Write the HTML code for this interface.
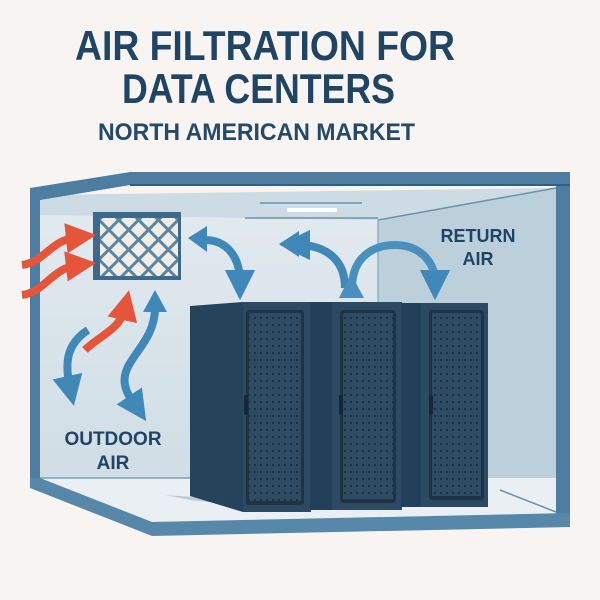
<!DOCTYPE html>
<html><head><meta charset="utf-8"><style>
html,body{margin:0;padding:0;background:#f7f4f1;}
svg{display:block}
text{font-family:"Liberation Sans",sans-serif;font-weight:bold;}
</style></head><body>
<svg width="600" height="600" viewBox="0 0 600 600" xmlns="http://www.w3.org/2000/svg">
<defs>
<pattern id="dots" width="6" height="7" patternUnits="userSpaceOnUse">
<rect width="6" height="7" fill="#2f4b64"/>
<rect x="2" y="2" width="2" height="2" fill="#1b3045"/>
</pattern>
<pattern id="lat" width="14" height="14" patternUnits="userSpaceOnUse" patternTransform="rotate(45)">
<rect width="14" height="14" fill="#f1ede4"/>
<rect width="3" height="14" fill="#5a86a6"/>
<rect width="14" height="3" fill="#5a86a6"/>
</pattern>
<linearGradient id="wall" x1="0" y1="0" x2="0" y2="1">
<stop offset="0" stop-color="#e3ebf0"/><stop offset="1" stop-color="#cddbe4"/>
</linearGradient>
<marker id="ab" viewBox="0 0 10 10" refX="4" refY="5" markerWidth="3.8" markerHeight="3.8" orient="auto"><path d="M0,0 L10,5 L0,10z" fill="#3f88b8"/></marker>
<marker id="ar" viewBox="0 0 10 10" refX="4" refY="5" markerWidth="3.8" markerHeight="3.8" orient="auto"><path d="M0,0 L10,5 L0,10z" fill="#e5553a"/></marker>
</defs>
<rect width="600" height="600" fill="#f7f4f1"/>
<text x="75" y="60" font-size="42" fill="#1f4464" textLength="380" lengthAdjust="spacingAndGlyphs">AIR FILTRATION FOR</text>
<text x="122" y="103" font-size="42" fill="#1f4464" textLength="273" lengthAdjust="spacingAndGlyphs">DATA CENTERS</text>
<text x="98" y="140" font-size="24" fill="#24496b" textLength="317" lengthAdjust="spacingAndGlyphs">NORTH AMERICAN MARKET</text>

<!-- interior -->
<polygon points="40,195 556,188 556,515 150,522 40,478" fill="url(#wall)"/>
<polygon points="378,220 556,188 556,512 500,490 378,490" fill="#bcd0dc"/>
<polygon points="40,195 556,188 378,220 40,215" fill="#ccdbe4"/>
<line x1="245" y1="218" x2="378" y2="218" stroke="#6e92ab" stroke-width="1.5"/>
<line x1="378" y1="220" x2="378" y2="490" stroke="#8fb0c4" stroke-width="1.5"/>
<line x1="378" y1="220" x2="556" y2="188" stroke="#6e92ab" stroke-width="1.5"/>
<rect x="287" y="208" width="50" height="4" fill="#ffffff"/>
<line x1="260" y1="203" x2="362" y2="203" stroke="#6e92ab" stroke-width="1.5"/>
<!-- floor -->
<polygon points="40,478 556,478 556,515 150,522" fill="#e9eff3"/>
<line x1="40" y1="478" x2="378" y2="478" stroke="#7fa0b6" stroke-width="1.5"/>
<line x1="500" y1="490" x2="556" y2="512" stroke="#6e92ab" stroke-width="1.5"/>
<!-- frame -->
<polygon points="30,188 130,172 570,172 570,185 130,185 40,200 40,478 30,478" fill="#4d7ea2"/>
<rect x="556" y="172" width="14" height="355" fill="#4d7ea2"/>
<polygon points="30,478 40,478 152,522 570,513 570,527 152,536 30,488" fill="#5787a9"/>
<line x1="130" y1="185" x2="570" y2="185" stroke="#2f5f82" stroke-width="2"/>

<!-- filter -->
<rect x="93" y="212" width="88" height="68" fill="#3d6a8a"/>
<rect x="100" y="218" width="78" height="58" fill="url(#lat)"/>

<!-- shadows -->
<polygon points="165,495 190,500 300,512 310,505" fill="#b9ccd8"/>
<!-- racks -->
<g>
<polygon points="190,306 243,302 243,512 190,496" fill="#26435c"/>
<rect x="243" y="302" width="68" height="210" fill="#2d4a63"/>
<rect x="246" y="310" width="58" height="195" rx="3" fill="#1e3346"/>
<rect x="249" y="313" width="52" height="188" fill="url(#dots)"/>
<rect x="244" y="395" width="4" height="20" rx="2" fill="#15283a"/>
</g>
<g>
<rect x="310" y="302" width="22" height="208" fill="#22405a"/>
<rect x="332" y="302" width="70" height="208" fill="#2d4a63"/>
<rect x="340" y="310" width="56" height="193" rx="3" fill="#1e3346"/>
<rect x="343" y="313" width="50" height="186" fill="url(#dots)"/>
<rect x="339" y="395" width="4" height="20" rx="2" fill="#15283a"/>
</g>
<g>
<rect x="401" y="303" width="20" height="204" fill="#22405a"/>
<rect x="421" y="303" width="67" height="204" fill="#2d4a63"/>
<rect x="429" y="310" width="55" height="190" rx="3" fill="#1e3346"/>
<rect x="432" y="313" width="49" height="183" fill="url(#dots)"/>
<rect x="429" y="395" width="4" height="20" rx="2" fill="#15283a"/>
</g>

<!-- arrows -->
<g fill="none" stroke-width="8" stroke-linecap="butt">
<path d="M22,265 C45,262 50,240 78,237" stroke="#e5553a" marker-end="url(#ar)"/>
<path d="M22,295 C45,292 52,268 78,265" stroke="#e5553a" marker-end="url(#ar)"/>
<path d="M85,350 C100,335 120,330 125,308" stroke="#e5553a" marker-end="url(#ar)"/>
<path d="M88,330 C65,345 65,365 70,388" stroke="#3f88b8" marker-end="url(#ab)"/>
<path d="M155,308 C155,345 120,360 125,385 C127,395 132,400 136,406" stroke="#3f88b8" marker-end="url(#ab)"/>
<path d="M205,240 C225,240 240,255 240,282" stroke="#3f88b8" marker-end="url(#ab)"/>
<path d="M345,288 C345,255 320,245 298,245" stroke="#3f88b8" marker-end="url(#ab)"/>
<path d="M352,288 C352,260 370,245 395,245 C420,245 435,262 435,282" stroke="#4a8fbd" marker-end="url(#ab)"/>
</g>
<g fill="#3f88b8">
<polygon points="143,312 155,290 167,312"/>
<polygon points="188,238 207,226 207,252"/>
<polygon points="279,244 299,231 299,257"/>
<polygon points="339,298 351,274 364,298" fill="#4a8fbd"/>
</g>

<text x="478" y="242" text-anchor="middle" font-size="18" fill="#1f4464">RETURN</text>
<text x="478" y="265" text-anchor="middle" font-size="18" fill="#1f4464">AIR</text>
<text x="113" y="445" text-anchor="middle" font-size="19" fill="#1f4464">OUTDOOR</text>
<text x="113" y="469" text-anchor="middle" font-size="19" fill="#1f4464">AIR</text>
</svg>
</body></html>
